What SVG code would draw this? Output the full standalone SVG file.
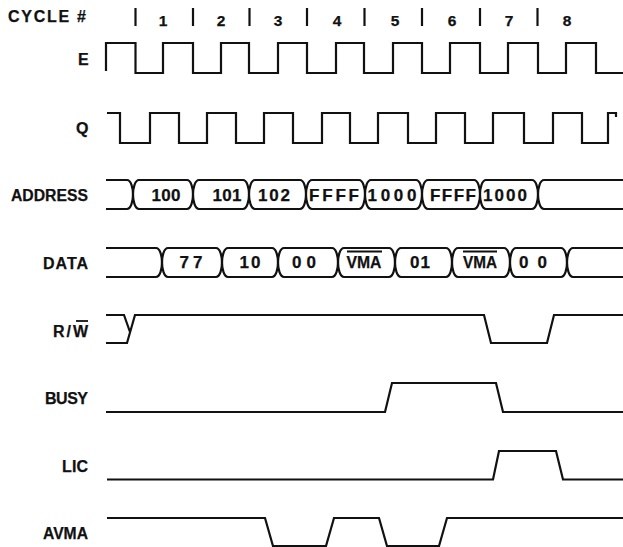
<svg xmlns="http://www.w3.org/2000/svg" width="623" height="547" viewBox="0 0 623 547">
<style>
.bg{fill:#ffffff}
.sig{fill:none;stroke:#111;stroke-width:2.2;stroke-linejoin:miter;stroke-linecap:butt}
.tick{stroke:#111;stroke-width:2.2}
.lbl{font-family:"Liberation Sans",Arial,sans-serif;font-weight:bold;font-size:16px;fill:#111;stroke:#111;stroke-width:0.25}
.val{font-family:"Liberation Sans",Arial,sans-serif;font-weight:bold;font-size:17px;fill:#111;text-anchor:middle;stroke:#111;stroke-width:0.25}
.num{font-family:"Liberation Sans",Arial,sans-serif;font-weight:bold;font-size:15.5px;fill:#111;text-anchor:middle;stroke:#111;stroke-width:0.25}
.ol{stroke:#111;stroke-width:1.8}
</style>
<rect class="bg" x="0" y="0" width="623" height="547"/>

<g id="cycle">
<text class="lbl" x="8" y="22" textLength="78" lengthAdjust="spacing">CYCLE #</text>
<g class="tick">
<line x1="135.5" y1="8" x2="135.5" y2="26"/>
<line x1="193" y1="8" x2="193" y2="26"/>
<line x1="249.5" y1="8" x2="249.5" y2="26"/>
<line x1="307" y1="8" x2="307" y2="26"/>
<line x1="364.5" y1="8" x2="364.5" y2="26"/>
<line x1="422" y1="8" x2="422" y2="26"/>
<line x1="480" y1="8" x2="480" y2="26"/>
<line x1="537.5" y1="8" x2="537.5" y2="26"/>
</g>
<text class="num" x="163" y="26">1</text>
<text class="num" x="221" y="26">2</text>
<text class="num" x="278" y="26">3</text>
<text class="num" x="337" y="26">4</text>
<text class="num" x="395" y="26">5</text>
<text class="num" x="452" y="26">6</text>
<text class="num" x="509" y="26">7</text>
<text class="num" x="567" y="26">8</text>
</g>

<g id="sig-E">
<text class="lbl" x="78" y="65">E</text>
<path class="sig" d="M106,71 V43 H135.5 V73 H163 V43 H193 V73 H221 V43 H249 V73 H278 V43 H307 V73 H336 V43 H364 V73 H393 V43 H422 V73 H450 V43 H480 V73 H508 V43 H538 V73 H566 V43 H596 V73 H623"/>
</g>

<g id="sig-Q">
<text class="lbl" x="76" y="134">Q</text>
<path class="sig" d="M107,113 H120 V143 H150 V113 H179 V143 H207 V113 H236 V143 H264 V113 H293 V143 H322 V113 H350 V143 H378 V113 H408 V143 H436 V113 H465 V143 H493 V113 H524 V143 H553 V113 H582 V143 H608 V113 H616 V117"/>
</g>

<g id="sig-address">
<text class="lbl" x="11" y="201" textLength="77" lengthAdjust="spacingAndGlyphs">ADDRESS</text>
<g class="sig">
<path d="M106,180 H127 C131,180 133,188 133,194.5 C133,201 131,209 127,209 H106"/>
<path d="M133,194.5 C133,188 135,180 139,180 H187 C191,180 193,188 193,194.5 C193,201 191,209 187,209 H139 C135,209 133,201 133,194.5Z"/>
<path d="M193,194.5 C193,188 195,180 199,180 H243 C247,180 249,188 249,194.5 C249,201 247,209 243,209 H199 C195,209 193,201 193,194.5Z"/>
<path d="M249,194.5 C249,188 251,180 255,180 H300 C304,180 306,188 306,194.5 C306,201 304,209 300,209 H255 C251,209 249,201 249,194.5Z"/>
<path d="M306,194.5 C306,188 308,180 312,180 H359 C363,180 365,188 365,194.5 C365,201 363,209 359,209 H312 C308,209 306,201 306,194.5Z"/>
<path d="M365,194.5 C365,188 367,180 371,180 H416 C420,180 422,188 422,194.5 C422,201 420,209 416,209 H371 C367,209 365,201 365,194.5Z"/>
<path d="M422,194.5 C422,188 424,180 428,180 H474 C478,180 480,188 480,194.5 C480,201 478,209 474,209 H428 C424,209 422,201 422,194.5Z"/>
<path d="M480,194.5 C480,188 482,180 486,180 H532 C536,180 538,188 538,194.5 C538,201 536,209 532,209 H486 C482,209 480,201 480,194.5Z"/>
<path d="M623,180 H544 C540,180 538,188 538,194.5 C538,201 540,209 544,209 H623"/>
</g>
<text class="val" x="166" y="201" textLength="29" lengthAdjust="spacing">100</text>
<text class="val" x="227" y="201" textLength="29" lengthAdjust="spacing">101</text>
<text class="val" x="274" y="201" textLength="32" lengthAdjust="spacing">102</text>
<text class="val" x="334" y="201" textLength="50" lengthAdjust="spacing">FFFF</text>
<text class="val" x="392" y="201" textLength="49" lengthAdjust="spacing">1000</text>
<text class="val" x="453" y="201" textLength="46" lengthAdjust="spacing">FFFF</text>
<text class="val" x="505" y="201" textLength="44" lengthAdjust="spacing">1000</text>
</g>

<g id="sig-data">
<text class="lbl" x="43" y="269" textLength="45" lengthAdjust="spacing">DATA</text>
<g class="sig">
<path d="M106,248 H156 C160,248 162,256 162,262.5 C162,269 160,277 156,277 H106"/>
<path d="M162,262.5 C162,256 164,248 168,248 H216 C220,248 222,256 222,262.5 C222,269 220,277 216,277 H168 C164,277 162,269 162,262.5Z"/>
<path d="M222,262.5 C222,256 224,248 228,248 H272 C276,248 278,256 278,262.5 C278,269 276,277 272,277 H228 C224,277 222,269 222,262.5Z"/>
<path d="M278,262.5 C278,256 280,248 284,248 H332 C336,248 338,256 338,262.5 C338,269 336,277 332,277 H284 C280,277 278,269 278,262.5Z"/>
<path d="M338,262.5 C338,256 340,248 344,248 H389 C393,248 395,256 395,262.5 C395,269 393,277 389,277 H344 C340,277 338,269 338,262.5Z"/>
<path d="M395,262.5 C395,256 397,248 401,248 H446 C450,248 452,256 452,262.5 C452,269 450,277 446,277 H401 C397,277 395,269 395,262.5Z"/>
<path d="M452,262.5 C452,256 454,248 458,248 H504 C508,248 510,256 510,262.5 C510,269 508,277 504,277 H458 C454,277 452,269 452,262.5Z"/>
<path d="M510,262.5 C510,256 512,248 516,248 H561 C565,248 567,256 567,262.5 C567,269 565,277 561,277 H516 C512,277 510,269 510,262.5Z"/>
<path d="M623,248 H573 C569,248 567,256 567,262.5 C567,269 569,277 573,277 H623"/>
</g>
<text class="val" x="191" y="268" textLength="23" lengthAdjust="spacing">77</text>
<text class="val" x="250" y="268" textLength="21" lengthAdjust="spacing">10</text>
<text class="val" x="304" y="268" textLength="24" lengthAdjust="spacing">00</text>
<text class="val" x="364" y="268" textLength="35" lengthAdjust="spacingAndGlyphs">VMA</text>
<line class="ol" x1="347" y1="251.5" x2="382" y2="251.5"/>
<text class="val" x="420" y="268" textLength="20" lengthAdjust="spacing">01</text>
<text class="val" x="480" y="268" textLength="34" lengthAdjust="spacingAndGlyphs">VMA</text>
<line class="ol" x1="463" y1="251.5" x2="497" y2="251.5"/>
<text class="val" x="533" y="268" textLength="28" lengthAdjust="spacing">00</text>
</g>

<g id="sig-rw">
<text class="lbl" x="53" y="337" textLength="35" lengthAdjust="spacing">R/W</text>
<line class="ol" x1="76" y1="321" x2="88" y2="321"/>
<path class="sig" d="M106,315 H124 L130,332"/>
<path class="sig" d="M106,343 H127 L135,315 H484 L491,343 H547 L554,315 H623"/>
</g>

<g id="sig-busy">
<text class="lbl" x="45" y="404" textLength="43" lengthAdjust="spacing">BUSY</text>
<path class="sig" d="M106,412 H385 L392,383 H496 L503,412 H623"/>
</g>

<g id="sig-lic">
<text class="lbl" x="62" y="472" textLength="26" lengthAdjust="spacing">LIC</text>
<path class="sig" d="M107,479.5 H493 L499,451 H556 L563,479.5 H623"/>
</g>

<g id="sig-avma">
<text class="lbl" x="43" y="539" textLength="45" lengthAdjust="spacingAndGlyphs">AVMA</text>
<path class="sig" d="M107,518 H265 L273,546 H326 L334,518 H379 L387,546 H439 L447,518 H623"/>
</g>
</svg>
